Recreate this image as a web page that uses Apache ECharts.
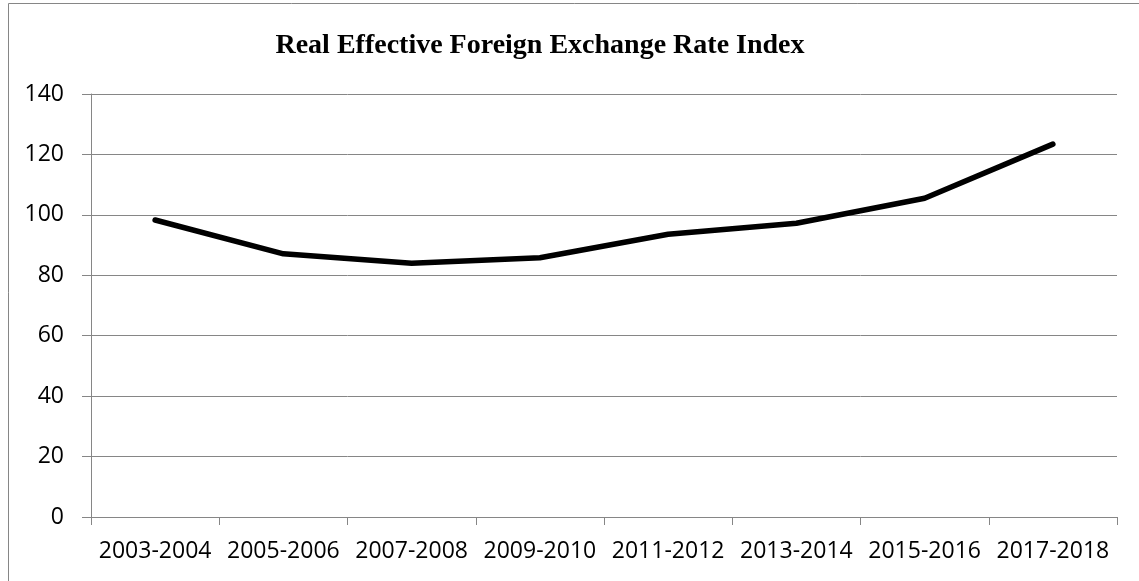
<!DOCTYPE html>
<html>
<head>
<meta charset="utf-8">
<script src="https://cdn.jsdelivr.net/npm/echarts@6/dist/echarts.min.js"></script>
<style>
html,body{margin:0;padding:0;background:#fff;}
#chart{width:1139px;height:581px;}
</style>
</head>
<body>
<div id="chart"></div>
<script>
const titleText = 'Real Effective Foreign Exchange Rate Index';
const categories = ['2003-2004','2005-2006','2007-2008','2009-2010','2011-2012','2013-2014','2015-2016','2017-2018'];
const reerValues = [98.3, 87.1, 84.0, 85.8, 93.6, 97.2, 105.5, 123.4];
const yTicks = {min: 0, max: 140, interval: 20};

const chart = echarts.init(document.getElementById('chart'), null, {renderer: 'canvas'});
const gray = '#868686';
chart.setOption({
  animation: false,
  backgroundColor: '#fff',
  graphic: [{
    type: 'rect',
    shape: {x: 8.5, y: 3.5, width: 1300, height: 800},
    style: {fill: 'none', stroke: gray, lineWidth: 1},
    silent: true
  }],
  title: {
    text: titleText,
    left: 535,
    textAlign: 'center',
    top: 27,
    textStyle: {fontFamily: 'Liberation Serif', fontWeight: 'bold', fontSize: 28, color: '#000'}
  },
  grid: {left: 91, right: 22, top: 94, bottom: 64, containLabel: false},
  xAxis: {
    type: 'category',
    data: categories,
    boundaryGap: true,
    axisLine: {lineStyle: {color: gray, width: 1}},
    axisTick: {show: true, length: 8, alignWithLabel: false, lineStyle: {color: gray}},
    axisLabel: {color: '#000', fontFamily: 'Open Sans', fontSize: 23, margin: 23, interval: 0}
  },
  yAxis: {
    type: 'value',
    min: yTicks.min, max: yTicks.max, interval: yTicks.interval,
    axisLine: {show: true, lineStyle: {color: gray, width: 1}},
    axisTick: {show: true, length: 9, lineStyle: {color: gray}},
    splitLine: {show: true, lineStyle: {color: gray, width: 1}},
    axisLabel: {color: '#000', fontFamily: 'Open Sans', fontSize: 23, margin: 27}
  },
  series: [{
    type: 'line',
    data: reerValues,
    symbol: 'none',
    smooth: false,
    lineStyle: {color: '#000', width: 5.5, cap: 'round', join: 'round'}
  }]
});
</script>
</body>
</html>
